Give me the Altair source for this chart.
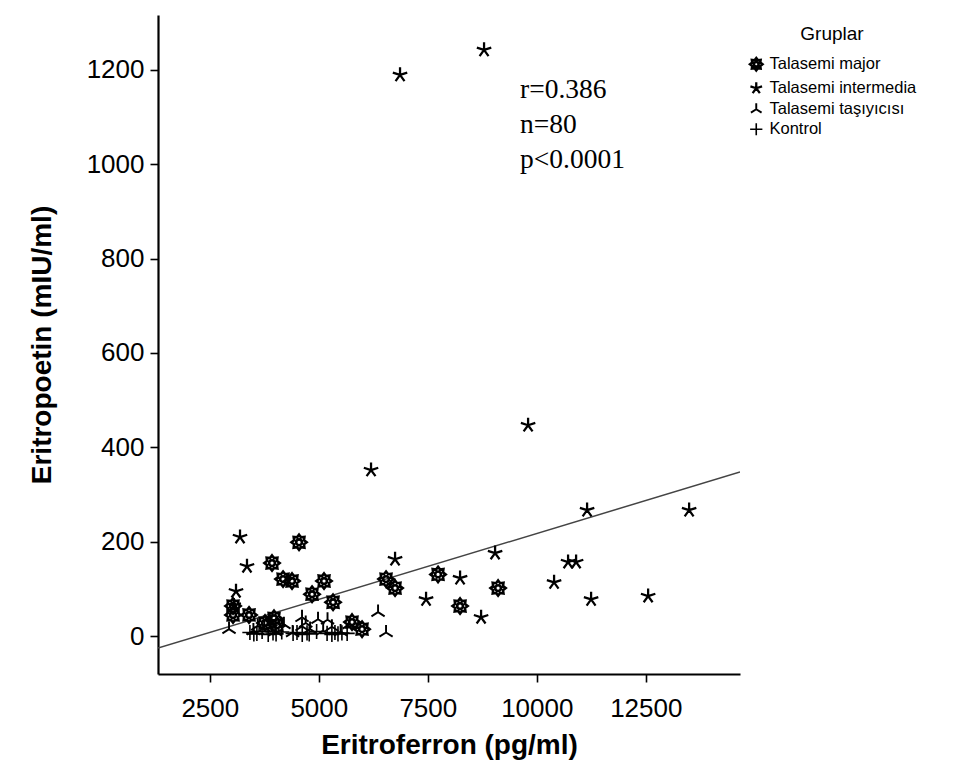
import math
import altair as alt
import pandas as pd

# ---------------- data ----------------
groups = ["Talasemi major", "Talasemi intermedia", "Talasemi taşıyıcısı", "Kontrol"]

major_x = [4547, 3927, 4180, 4386, 5120, 4845, 5327, 6542, 6749, 7735,
           3033, 3033, 3400, 3767, 3973, 4042, 5762, 5992, 8240, 9112]
major_y = [199, 155, 121, 117, 117, 89, 72, 121, 102, 131,
           64, 45, 45, 28, 38, 23, 30, 15, 64, 102]

inter_x = [8790, 6863, 9800, 6198, 11153, 13493, 3193, 3353, 3101, 6749,
           7460, 9043, 8240, 8722, 10717, 10901, 10396, 11245, 12553, 3050]
inter_y = [1242, 1189, 447, 352, 267, 267, 210, 148, 95, 163,
           78, 176, 123, 40, 157, 157, 114, 78, 85, 65]

carrier_x = [6359, 6542, 2941, 4615, 4982, 4615, 3500, 3750, 4000, 4200,
             4400, 4800, 5100, 5300, 5500, 5700, 3900, 5200, 4700, 3600]
carrier_y = [51, 8, 15, 40, 36, 21, 12, 18, 10, 25,
             8, 15, 12, 20, 10, 25, 30, 35, 28, 22]

control_x = [3420, 3510, 3580, 3700, 3840, 3950, 4020, 4150, 4410, 4500,
             4620, 4730, 4780, 4950, 5190, 5300, 5370, 5440, 5530, 5650]
control_y = [8, 5, 6, 10, 4, 7, 5, 9, 6, 8,
             4, 7, 5, 10, 6, 4, 8, 5, 7, 6]

# fitted regression line
reg_slope = 0.02794
reg_intercept = -61.7

x_domain = [1312, 14660]
y_domain = [-80, 1316]
x_ticks = [2500, 5000, 7500, 10000, 12500]
y_ticks = [0, 200, 400, 600, 800, 1000, 1200]

stats_text = ["r=0.386", "n=80", "p<0.0001"]
stats_y = [1157, 1083, 1009]
stats_x = 9616

# ---------------- tables ----------------
rows = []
for g, xs_, ys_ in [(groups[0], major_x, major_y), (groups[1], inter_x, inter_y),
                    (groups[2], carrier_x, carrier_y), (groups[3], control_x, control_y)]:
    for a, b in zip(xs_, ys_):
        rows.append({"x": a, "y": b, "group": g})
pts = pd.DataFrame(rows)

line_df = pd.DataFrame({"x": x_domain,
                        "y": [reg_slope * v + reg_intercept for v in x_domain]})
text_df = pd.DataFrame({"x": [stats_x] * 3, "y": stats_y, "t": stats_text})

# ---------------- symbol shapes ----------------
def gear_path():
    pts_ = []
    n = 8
    for i in range(2 * n):
        ang = math.pi * i / n - math.pi / 2
        r = 1.0 if i % 2 == 0 else 0.7
        pts_.append((r * math.cos(ang), r * math.sin(ang)))
    d = "M" + "L".join(f"{p[0]:.3f},{p[1]:.3f}" for p in pts_) + "Z"
    d += "M0.38,0A0.38,0.38 0 1,0 -0.38,0A0.38,0.38 0 1,0 0.38,0Z"
    return d

def asterisk_path():
    d = ""
    for i in range(5):
        ang = -math.pi / 2 + i * 2 * math.pi / 5
        d += f"M0,0L{math.cos(ang):.3f},{math.sin(ang):.3f}"
    return d

tri_path = "M0,0L0,-1M0,0L0.87,0.55M0,0L-0.87,0.55"
plus_path = "M-1,0L1,0M0,-1L0,1"
shapes = [gear_path(), asterisk_path(), tri_path, plus_path]

FONT = "Liberation Sans"

xs = alt.Scale(domain=x_domain, nice=False, zero=False)
ys = alt.Scale(domain=y_domain, nice=False, zero=False)

points = alt.Chart(pts).mark_point(
    filled=False, color="black", opacity=1, size=230
).encode(
    x=alt.X("x:Q", scale=xs, title="Eritroferron (pg/ml)",
            axis=alt.Axis(values=x_ticks, format="d", labelPadding=13, titlePadding=10)),
    y=alt.Y("y:Q", scale=ys, title="Eritropoetin (mIU/ml)",
            axis=alt.Axis(values=y_ticks, format="d", labelPadding=6, titlePadding=30)),
    shape=alt.Shape("group:N", scale=alt.Scale(domain=groups, range=shapes),
                    legend=alt.Legend(title="Gruplar", orient="none",
                                      legendX=590, legendY=10,
                                      titleAnchor="middle", titleFontSize=19,
                                      titleFontWeight="normal", titleFont=FONT,
                                      titlePadding=12,
                                      labelFont=FONT, labelFontSize=16.5,
                                      labelColor="black", titleColor="black",
                                      symbolSize=150, symbolStrokeWidth=1.8,
                                      symbolStrokeColor="black",
                                      rowPadding=1, labelOffset=5)),
    strokeWidth=alt.StrokeWidth("group:N",
                                scale=alt.Scale(domain=groups, range=[2.6, 1.6, 1.6, 1.6]),
                                legend=None),
)

reg = alt.Chart(line_df).mark_line(color="#444444", strokeWidth=1.5, clip=True).encode(
    x=alt.X("x:Q", scale=xs), y=alt.Y("y:Q", scale=ys))

txt = alt.Chart(text_df).mark_text(
    align="left", baseline="middle", font="Liberation Serif", fontSize=27.5, color="black"
).encode(x=alt.X("x:Q", scale=xs), y=alt.Y("y:Q", scale=ys), text="t:N")

chart = alt.layer(reg, points, txt).properties(
    width=582, height=659, autosize="none",
    padding={"left": 150, "top": 7, "right": 228, "bottom": 90},
).configure_view(stroke=None).configure_axis(
    grid=False, domainColor="black", domainWidth=2.2, tickColor="black",
    tickWidth=1.6, tickSize=8, labelFont=FONT, labelFontSize=26,
    labelColor="black", titleFont=FONT, titleFontSize=28, titleFontWeight="bold",
    titleColor="black",
)

chart.save("out.html", embed_options={"renderer": "svg", "actions": False})
